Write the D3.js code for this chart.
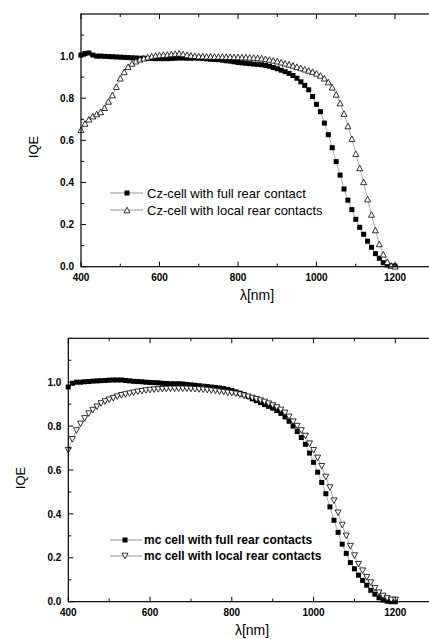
<!DOCTYPE html>
<html>
<head>
<meta charset="utf-8">
<script src="https://cdn.jsdelivr.net/npm/d3@7"></script>
<style>
  body { margin: 0; background: #fff; overflow: hidden; }
  svg { display: block; font-family: "Liberation Sans", Arial, sans-serif; }
</style>
</head>
<body>
<div id="chart"></div>
<script>
// wavelength grid (nm) shared by all four series
const wavelengths = [400,410,420,430,440,450,460,470,480,490,500,510,520,530,540,550,560,570,580,590,
  600,610,620,630,640,650,660,670,680,690,700,710,720,730,740,750,760,770,780,790,
  800,810,820,830,840,850,860,870,880,890,900,910,920,930,940,950,960,970,980,990,
  1000,1010,1020,1030,1040,1050,1060,1070,1080,1090,1100,1110,1120,1130,1140,1150,1160,1170,1180,1190,1200];

// top panel: Cz cells
const czFull = [1.005,1.012,1.015,1.005,1.0,1.0,0.999,0.998,0.997,0.996,0.995,0.994,0.993,0.992,0.991,0.99,0.99,0.989,0.989,0.988,
  0.988,0.988,0.988,0.989,0.99,0.991,0.991,0.99,0.99,0.991,0.99,0.989,0.987,0.985,0.984,0.983,0.981,0.978,0.976,0.973,
  0.97,0.968,0.966,0.964,0.962,0.961,0.959,0.956,0.952,0.946,0.94,0.933,0.926,0.918,0.908,0.895,0.878,0.861,0.84,0.808,
  0.771,0.736,0.682,0.627,0.565,0.499,0.435,0.369,0.316,0.271,0.225,0.187,0.154,0.121,0.092,0.062,0.04,0.019,0.008,0.003,0.003];
const czLocal = [0.65,0.68,0.70,0.715,0.725,0.735,0.755,0.785,0.815,0.855,0.895,0.925,0.95,0.965,0.976,0.985,0.99,0.995,1.0,1.003,
  1.005,1.007,1.008,1.01,1.012,1.013,1.01,1.006,1.003,1.002,1.0,1.0,0.999,0.999,0.998,0.998,0.998,0.997,0.997,0.996,
  0.996,0.995,0.995,0.994,0.993,0.992,0.99,0.987,0.984,0.98,0.976,0.971,0.966,0.961,0.956,0.95,0.944,0.938,0.932,0.926,
  0.918,0.908,0.895,0.877,0.852,0.818,0.777,0.727,0.668,0.608,0.537,0.469,0.403,0.321,0.248,0.174,0.108,0.059,0.024,0.006,0.002];

// bottom panel: mc cells
const mcFull = [0.978,0.995,1.0,1.0,1.002,1.003,1.005,1.006,1.007,1.008,1.009,1.01,1.01,1.01,1.008,1.006,1.004,1.003,1.002,1.0,
  0.999,0.998,0.997,0.995,0.994,0.993,0.993,0.993,0.992,0.99,0.988,0.986,0.984,0.982,0.98,0.978,0.976,0.974,0.971,0.967,
  0.962,0.956,0.95,0.943,0.935,0.924,0.916,0.907,0.898,0.89,0.882,0.871,0.858,0.842,0.822,0.8,0.775,0.748,0.717,0.677,
  0.635,0.59,0.543,0.492,0.432,0.371,0.316,0.262,0.22,0.178,0.15,0.121,0.097,0.075,0.052,0.034,0.018,0.008,0.002,0.0,0.0];
const mcLocal = [0.69,0.74,0.78,0.81,0.835,0.857,0.873,0.888,0.903,0.912,0.92,0.927,0.934,0.94,0.944,0.948,0.952,0.956,0.959,0.962,
  0.964,0.966,0.967,0.968,0.969,0.97,0.97,0.97,0.97,0.97,0.969,0.968,0.967,0.966,0.964,0.962,0.96,0.957,0.955,0.952,
  0.95,0.947,0.943,0.938,0.933,0.928,0.922,0.916,0.91,0.902,0.894,0.885,0.874,0.86,0.842,0.82,0.8,0.78,0.755,0.72,
  0.69,0.655,0.617,0.568,0.52,0.46,0.405,0.349,0.3,0.253,0.21,0.171,0.141,0.111,0.087,0.061,0.041,0.026,0.015,0.008,0.008];

const xMajor = [400, 600, 800, 1000, 1200];
const xMinor = [500, 700, 900, 1100, 1300];
const yMajor = [0, 0.2, 0.4, 0.6, 0.8, 1.0];
const yMinor = [0.1, 0.3, 0.5, 0.7, 0.9, 1.1];

const panels = [
  { box: { left: 81, right: 434.3, top: 14, bottom: 266.7 },
    series: [
      { name: "Cz-cell with full rear contact", values: czFull, marker: "square" },
      { name: "Cz-cell with local rear contacts", values: czLocal, marker: "up" }
    ],
    legend: { x0: 110, x1: 143, mx: 127, tx: 147, y: [193, 210], weight: "normal", size: 13 },
    yLabel: { x: 37.5, y: 147 }, xLabel: { x: 257, y: 300 } },
  { box: { left: 68.3, right: 436.2, top: 338.3, bottom: 601.7 },
    series: [
      { name: "mc cell with full rear contacts", values: mcFull, marker: "square" },
      { name: "mc cell with local rear contacts", values: mcLocal, marker: "down" }
    ],
    legend: { x0: 110, x1: 142, mx: 125, tx: 144, y: [540, 556], weight: "bold", size: 12 },
    yLabel: { x: 24.5, y: 478 }, xLabel: { x: 252, y: 635 } }
];

const svg = d3.select("#chart").append("svg")
  .attr("width", 429)
  .attr("height", 639);

// draw one marker at (x, y)
function drawMarker(g, type, x, y) {
  if (type === "square") {
    g.append("rect")
      .attr("x", x - 2.5).attr("y", y - 2.5)
      .attr("width", 5).attr("height", 5)
      .attr("fill", "#000");
  } else {
    const w = 3, h = 2.8;
    const d = type === "up"
      ? `M${x},${y - h}L${x + w},${y + h}L${x - w},${y + h}Z`
      : `M${x},${y + h}L${x + w},${y - h}L${x - w},${y - h}Z`;
    g.append("path")
      .attr("d", d)
      .attr("fill", "#fff")
      .attr("stroke", "#000")
      .attr("stroke-width", 0.8);
  }
}

panels.forEach(p => {
  const b = p.box;
  const x = d3.scaleLinear().domain([400, 1300]).range([b.left, b.right]);
  const y = d3.scaleLinear().domain([0, 1.2]).range([b.bottom, b.top]);
  const g = svg.append("g");

  // series: thin connecting line, then markers
  p.series.forEach(s => {
    const pts = wavelengths.map((w, i) => [w, s.values[i]]);
    g.append("path")
      .datum(pts)
      .attr("fill", "none")
      .attr("stroke", "#777")
      .attr("stroke-width", 0.6)
      .attr("d", d3.line().x(d => x(d[0])).y(d => y(d[1])));
    pts.forEach(d => drawMarker(g, s.marker, x(d[0]), y(d[1])));
  });

  // frame
  g.append("rect")
    .attr("x", b.left).attr("y", b.top)
    .attr("width", b.right - b.left).attr("height", b.bottom - b.top)
    .attr("fill", "none")
    .attr("stroke", "#000")
    .attr("stroke-width", 1.2);

  // inward ticks on all four sides
  const tick = (vals, len) => {
    vals.forEach(v => {
      g.append("line").attr("x1", x(v)).attr("x2", x(v)).attr("y1", b.bottom).attr("y2", b.bottom - len).attr("stroke", "#000");
      g.append("line").attr("x1", x(v)).attr("x2", x(v)).attr("y1", b.top).attr("y2", b.top + len).attr("stroke", "#000");
    });
  };
  tick(xMajor, 5);
  tick(xMinor, 3);
  const ytick = (vals, len) => {
    vals.forEach(v => {
      g.append("line").attr("x1", b.left).attr("x2", b.left + len).attr("y1", y(v)).attr("y2", y(v)).attr("stroke", "#000");
      g.append("line").attr("x1", b.right).attr("x2", b.right - len).attr("y1", y(v)).attr("y2", y(v)).attr("stroke", "#000");
    });
  };
  ytick(yMajor, 5);
  ytick(yMinor, 3);

  // tick labels
  g.selectAll(".xl").data(xMajor).enter().append("text")
    .attr("x", d => x(d)).attr("y", b.bottom + 14.5)
    .attr("text-anchor", "middle")
    .style("font-size", "10px").style("font-weight", "bold")
    .text(d => d);
  g.selectAll(".yl").data(yMajor).enter().append("text")
    .attr("x", b.left - 7).attr("y", d => y(d) + 3.6)
    .attr("text-anchor", "end")
    .style("font-size", "10px").style("font-weight", "bold")
    .text(d => d.toFixed(1));

  // axis titles
  g.append("text")
    .attr("transform", `translate(${p.yLabel.x},${p.yLabel.y}) rotate(-90)`)
    .attr("text-anchor", "middle")
    .style("font-size", "13px")
    .text("IQE");
  g.append("text")
    .attr("x", p.xLabel.x).attr("y", p.xLabel.y)
    .attr("text-anchor", "middle")
    .style("font-size", "14px")
    .text("λ[nm]");

  // legend
  const L = p.legend;
  p.series.forEach((s, i) => {
    g.append("line")
      .attr("x1", L.x0).attr("x2", L.x1)
      .attr("y1", L.y[i]).attr("y2", L.y[i])
      .attr("stroke", "#777").attr("stroke-width", 0.8);
    drawMarker(g, s.marker, L.mx, L.y[i]);
    g.append("text")
      .attr("x", L.tx).attr("y", L.y[i] + L.size * 0.36)
      .style("font-size", L.size + "px")
      .style("font-weight", L.weight)
      .text(s.name);
  });
});
</script>
</body>
</html>
